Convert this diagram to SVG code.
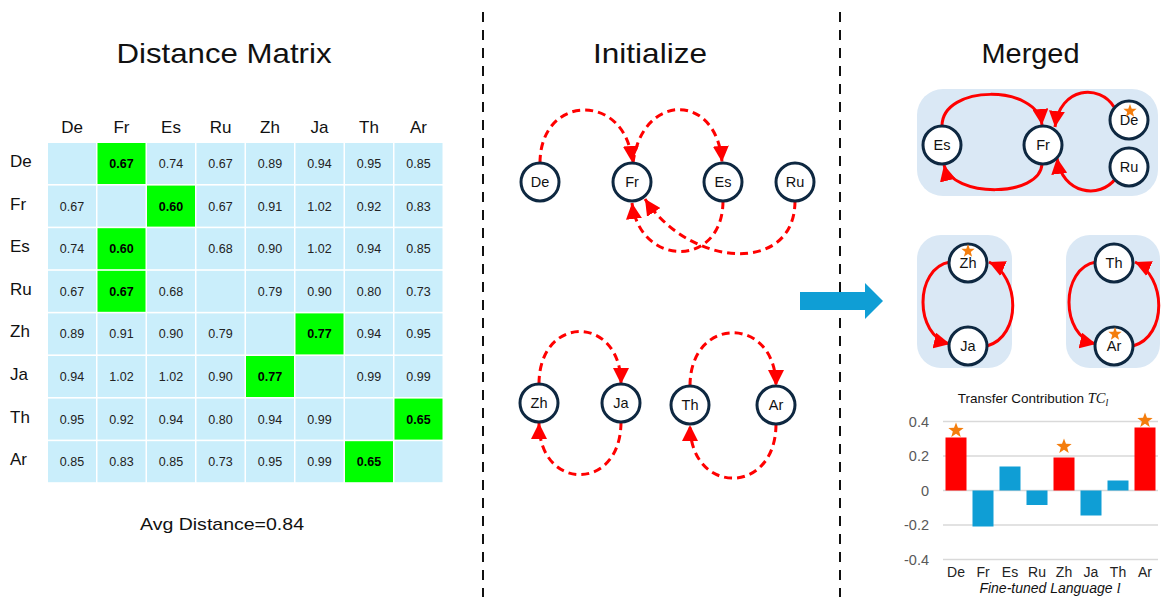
<svg xmlns="http://www.w3.org/2000/svg" width="1163" height="597" viewBox="0 0 1163 597">
<style>
text{font-family:"Liberation Sans",Arial,sans-serif;fill:#111;}
.title{font-size:28px;text-anchor:middle;}
.hdr{font-size:17px;text-anchor:middle;}
.rl{font-size:17px;}
.c{fill:#CAEEFB;}
.g{fill:#00FF00;}
.v{font-size:12.5px;text-anchor:middle;fill:#222;}
.b{font-size:12.5px;text-anchor:middle;font-weight:bold;fill:#000;}
.node circle{fill:#fff;stroke:#0E2841;stroke-width:3;}
.node text{font-size:14.5px;text-anchor:middle;fill:#111;}
.dash{fill:none;stroke:#FF0000;stroke-width:3;stroke-dasharray:8 5;}
.solid{fill:none;stroke:#FF0000;stroke-width:3;}
.sep{stroke:#111;stroke-width:2;stroke-dasharray:10 8;}
.grp{fill:#DAE8F5;}
.grid{stroke:#D9D9D9;stroke-width:1.5;}
.yl{font-size:14.5px;fill:#595959;text-anchor:end;}
.xl{font-size:14px;fill:#222;text-anchor:middle;}
.red{fill:#FF0000;}
.blu{fill:#0F9ED5;}
.star{fill:#F47D0C;}
</style>
<defs>
<marker id="ah" markerUnits="userSpaceOnUse" markerWidth="17" markerHeight="16" refX="16" refY="8" orient="auto">
<path d="M0,0 L16,8 L0,16 Z" fill="#FF0000"/>
</marker>
<path id="star" d="M0,-7 L1.70,-2.35 L6.66,-2.16 L2.76,0.90 L4.11,5.66 L0,2.9 L-4.11,5.66 L-2.76,0.90 L-6.66,-2.16 L-1.70,-2.35 Z"/>
</defs>
<rect width="1163" height="597" fill="#fff"/>

<!-- titles -->
<text class="title" x="224" y="63" textLength="215" lengthAdjust="spacingAndGlyphs">Distance Matrix</text>
<text class="title" x="650" y="63" textLength="114" lengthAdjust="spacingAndGlyphs">Initialize</text>
<text class="title" x="1030.5" y="63" textLength="98" lengthAdjust="spacingAndGlyphs">Merged</text>

<!-- separators -->
<line class="sep" x1="483" y1="12" x2="483" y2="597"/>
<line class="sep" x1="840" y1="12" x2="840" y2="597"/>

<!-- matrix -->
<g id="matrix">
<g id="col-headers">
<text class="hdr" x="72" y="133">De</text>
<text class="hdr" x="121.5" y="133">Fr</text>
<text class="hdr" x="171" y="133">Es</text>
<text class="hdr" x="220.5" y="133">Ru</text>
<text class="hdr" x="270" y="133">Zh</text>
<text class="hdr" x="319.5" y="133">Ja</text>
<text class="hdr" x="369" y="133">Th</text>
<text class="hdr" x="418.5" y="133">Ar</text>
</g>
<g id="row-labels">
<text class="rl" x="10" y="167">De</text>
<text class="rl" x="10" y="209.6">Fr</text>
<text class="rl" x="10" y="252.2">Es</text>
<text class="rl" x="10" y="294.8">Ru</text>
<text class="rl" x="10" y="337.4">Zh</text>
<text class="rl" x="10" y="380">Ja</text>
<text class="rl" x="10" y="422.6">Th</text>
<text class="rl" x="10" y="465.2">Ar</text>
</g>
<g id="cells">
<!-- row De -->
<rect class="c" x="48" y="143" width="48" height="41"/>
<rect class="g" x="97.5" y="143" width="48" height="41"/><text class="b" x="121.5" y="168">0.67</text>
<rect class="c" x="147" y="143" width="48" height="41"/><text class="v" x="171" y="168">0.74</text>
<rect class="c" x="196.5" y="143" width="48" height="41"/><text class="v" x="220.5" y="168">0.67</text>
<rect class="c" x="246" y="143" width="48" height="41"/><text class="v" x="270" y="168">0.89</text>
<rect class="c" x="295.5" y="143" width="48" height="41"/><text class="v" x="319.5" y="168">0.94</text>
<rect class="c" x="345" y="143" width="48" height="41"/><text class="v" x="369" y="168">0.95</text>
<rect class="c" x="394.5" y="143" width="48" height="41"/><text class="v" x="418.5" y="168">0.85</text>
<!-- row Fr -->
<rect class="c" x="48" y="185.6" width="48" height="41"/><text class="v" x="72" y="210.6">0.67</text>
<rect class="c" x="97.5" y="185.6" width="48" height="41"/>
<rect class="g" x="147" y="185.6" width="48" height="41"/><text class="b" x="171" y="210.6">0.60</text>
<rect class="c" x="196.5" y="185.6" width="48" height="41"/><text class="v" x="220.5" y="210.6">0.67</text>
<rect class="c" x="246" y="185.6" width="48" height="41"/><text class="v" x="270" y="210.6">0.91</text>
<rect class="c" x="295.5" y="185.6" width="48" height="41"/><text class="v" x="319.5" y="210.6">1.02</text>
<rect class="c" x="345" y="185.6" width="48" height="41"/><text class="v" x="369" y="210.6">0.92</text>
<rect class="c" x="394.5" y="185.6" width="48" height="41"/><text class="v" x="418.5" y="210.6">0.83</text>
<!-- row Es -->
<rect class="c" x="48" y="228.2" width="48" height="41"/><text class="v" x="72" y="253.2">0.74</text>
<rect class="g" x="97.5" y="228.2" width="48" height="41"/><text class="b" x="121.5" y="253.2">0.60</text>
<rect class="c" x="147" y="228.2" width="48" height="41"/>
<rect class="c" x="196.5" y="228.2" width="48" height="41"/><text class="v" x="220.5" y="253.2">0.68</text>
<rect class="c" x="246" y="228.2" width="48" height="41"/><text class="v" x="270" y="253.2">0.90</text>
<rect class="c" x="295.5" y="228.2" width="48" height="41"/><text class="v" x="319.5" y="253.2">1.02</text>
<rect class="c" x="345" y="228.2" width="48" height="41"/><text class="v" x="369" y="253.2">0.94</text>
<rect class="c" x="394.5" y="228.2" width="48" height="41"/><text class="v" x="418.5" y="253.2">0.85</text>
<!-- row Ru -->
<rect class="c" x="48" y="270.8" width="48" height="41"/><text class="v" x="72" y="295.8">0.67</text>
<rect class="g" x="97.5" y="270.8" width="48" height="41"/><text class="b" x="121.5" y="295.8">0.67</text>
<rect class="c" x="147" y="270.8" width="48" height="41"/><text class="v" x="171" y="295.8">0.68</text>
<rect class="c" x="196.5" y="270.8" width="48" height="41"/>
<rect class="c" x="246" y="270.8" width="48" height="41"/><text class="v" x="270" y="295.8">0.79</text>
<rect class="c" x="295.5" y="270.8" width="48" height="41"/><text class="v" x="319.5" y="295.8">0.90</text>
<rect class="c" x="345" y="270.8" width="48" height="41"/><text class="v" x="369" y="295.8">0.80</text>
<rect class="c" x="394.5" y="270.8" width="48" height="41"/><text class="v" x="418.5" y="295.8">0.73</text>
<!-- row Zh -->
<rect class="c" x="48" y="313.4" width="48" height="41"/><text class="v" x="72" y="338.4">0.89</text>
<rect class="c" x="97.5" y="313.4" width="48" height="41"/><text class="v" x="121.5" y="338.4">0.91</text>
<rect class="c" x="147" y="313.4" width="48" height="41"/><text class="v" x="171" y="338.4">0.90</text>
<rect class="c" x="196.5" y="313.4" width="48" height="41"/><text class="v" x="220.5" y="338.4">0.79</text>
<rect class="c" x="246" y="313.4" width="48" height="41"/>
<rect class="g" x="295.5" y="313.4" width="48" height="41"/><text class="b" x="319.5" y="338.4">0.77</text>
<rect class="c" x="345" y="313.4" width="48" height="41"/><text class="v" x="369" y="338.4">0.94</text>
<rect class="c" x="394.5" y="313.4" width="48" height="41"/><text class="v" x="418.5" y="338.4">0.95</text>
<!-- row Ja -->
<rect class="c" x="48" y="356" width="48" height="41"/><text class="v" x="72" y="381">0.94</text>
<rect class="c" x="97.5" y="356" width="48" height="41"/><text class="v" x="121.5" y="381">1.02</text>
<rect class="c" x="147" y="356" width="48" height="41"/><text class="v" x="171" y="381">1.02</text>
<rect class="c" x="196.5" y="356" width="48" height="41"/><text class="v" x="220.5" y="381">0.90</text>
<rect class="g" x="246" y="356" width="48" height="41"/><text class="b" x="270" y="381">0.77</text>
<rect class="c" x="295.5" y="356" width="48" height="41"/>
<rect class="c" x="345" y="356" width="48" height="41"/><text class="v" x="369" y="381">0.99</text>
<rect class="c" x="394.5" y="356" width="48" height="41"/><text class="v" x="418.5" y="381">0.99</text>
<!-- row Th -->
<rect class="c" x="48" y="398.6" width="48" height="41"/><text class="v" x="72" y="423.6">0.95</text>
<rect class="c" x="97.5" y="398.6" width="48" height="41"/><text class="v" x="121.5" y="423.6">0.92</text>
<rect class="c" x="147" y="398.6" width="48" height="41"/><text class="v" x="171" y="423.6">0.94</text>
<rect class="c" x="196.5" y="398.6" width="48" height="41"/><text class="v" x="220.5" y="423.6">0.80</text>
<rect class="c" x="246" y="398.6" width="48" height="41"/><text class="v" x="270" y="423.6">0.94</text>
<rect class="c" x="295.5" y="398.6" width="48" height="41"/><text class="v" x="319.5" y="423.6">0.99</text>
<rect class="c" x="345" y="398.6" width="48" height="41"/>
<rect class="g" x="394.5" y="398.6" width="48" height="41"/><text class="b" x="418.5" y="423.6">0.65</text>
<!-- row Ar -->
<rect class="c" x="48" y="441.2" width="48" height="41"/><text class="v" x="72" y="466.2">0.85</text>
<rect class="c" x="97.5" y="441.2" width="48" height="41"/><text class="v" x="121.5" y="466.2">0.83</text>
<rect class="c" x="147" y="441.2" width="48" height="41"/><text class="v" x="171" y="466.2">0.85</text>
<rect class="c" x="196.5" y="441.2" width="48" height="41"/><text class="v" x="220.5" y="466.2">0.73</text>
<rect class="c" x="246" y="441.2" width="48" height="41"/><text class="v" x="270" y="466.2">0.95</text>
<rect class="c" x="295.5" y="441.2" width="48" height="41"/><text class="v" x="319.5" y="466.2">0.99</text>
<rect class="g" x="345" y="441.2" width="48" height="41"/><text class="b" x="369" y="466.2">0.65</text>
<rect class="c" x="394.5" y="441.2" width="48" height="41"/>
</g>
<text x="222" y="530" font-size="17" text-anchor="middle" textLength="164" lengthAdjust="spacingAndGlyphs">Avg Distance=0.84</text>
</g>

<!-- merged group backgrounds -->
<rect id="grp-top" class="grp" x="917" y="89" width="241" height="107" rx="26"/>
<rect id="grp-zhja" class="grp" x="917" y="235" width="95" height="133" rx="24"/>
<rect id="grp-thar" class="grp" x="1066" y="235" width="94" height="133" rx="24"/>

<!-- connectors -->
<g id="connectors">
<path class="dash" marker-end="url(#ah)" d="M540,163 C540,93 627,92 632,162"/>
<path class="dash" marker-end="url(#ah)" d="M633,163 C642,92 717,92 722,162"/>
<path class="dash" marker-end="url(#ah)" d="M723,201 C723,268 640,268 632,203"/>
<path class="dash" marker-end="url(#ah)" d="M795,201 C795,275 690,268 645,199"/>
<path class="dash" marker-end="url(#ah)" d="M539,384 C539,314 621,314 621,384"/>
<path class="dash" marker-end="url(#ah)" d="M621,422 C621,492 539,492 539,423"/>
<path class="dash" marker-end="url(#ah)" d="M690,386 C690,315 776,315 776,386"/>
<path class="dash" marker-end="url(#ah)" d="M776,424 C776,496 690,496 690,425"/>
<path class="solid" marker-end="url(#ah)" d="M942,126 C942,84 1038,84 1042,125"/>
<path class="solid" marker-end="url(#ah)" d="M1042,164 C1040,198 952,198 944,165"/>
<path class="solid" marker-end="url(#ah)" d="M1114,107 C1100,84 1060,86 1055,127"/>
<path class="solid" marker-end="url(#ah)" d="M1116,178 C1100,200 1062,194 1057,158"/>
<path class="solid" marker-end="url(#ah)" d="M950,262 C914,268 914,336 950,344"/>
<path class="solid" marker-end="url(#ah)" d="M987,346 C1022,336 1020,276 989,262"/>
<path class="solid" marker-end="url(#ah)" d="M1096,262 C1060,268 1060,336 1096,344"/>
<path class="solid" marker-end="url(#ah)" d="M1133,346 C1168,336 1166,276 1135,262"/>
</g>

<!-- initialize nodes -->
<g id="init-De" class="node"><circle cx="540" cy="182" r="19"/><text x="540" y="187">De</text></g>
<g id="init-Fr" class="node"><circle cx="632" cy="182" r="19"/><text x="632" y="187">Fr</text></g>
<g id="init-Es" class="node"><circle cx="723" cy="182" r="19"/><text x="723" y="187">Es</text></g>
<g id="init-Ru" class="node"><circle cx="795" cy="182" r="19"/><text x="795" y="187">Ru</text></g>
<g id="init-Zh" class="node"><circle cx="539" cy="403" r="19"/><text x="539" y="408">Zh</text></g>
<g id="init-Ja" class="node"><circle cx="621" cy="403" r="19"/><text x="621" y="408">Ja</text></g>
<g id="init-Th" class="node"><circle cx="690" cy="405" r="19"/><text x="690" y="410">Th</text></g>
<g id="init-Ar" class="node"><circle cx="776" cy="405" r="19"/><text x="776" y="410">Ar</text></g>

<!-- merged nodes -->
<g id="m-Es" class="node"><circle cx="942" cy="145" r="19"/><text x="942" y="150">Es</text></g>
<g id="m-Fr" class="node"><circle cx="1043" cy="145" r="19"/><text x="1043" y="150">Fr</text></g>
<g id="m-De" class="node"><circle cx="1129" cy="120" r="19"/><text x="1129" y="125">De</text><use href="#star" class="star" x="1130" y="111"/></g>
<g id="m-Ru" class="node"><circle cx="1129" cy="167" r="19"/><text x="1129" y="172">Ru</text></g>
<g id="m-Zh" class="node"><circle cx="968" cy="263" r="19"/><text x="968" y="268">Zh</text><use href="#star" class="star" x="968" y="251"/></g>
<g id="m-Ja" class="node"><circle cx="968" cy="346" r="19"/><text x="968" y="351">Ja</text></g>
<g id="m-Th" class="node"><circle cx="1114" cy="263" r="19"/><text x="1114" y="268">Th</text></g>
<g id="m-Ar" class="node"><circle cx="1114" cy="346" r="19"/><text x="1114" y="351">Ar</text><use href="#star" class="star" x="1115" y="334"/></g>

<!-- blue arrow -->
<path id="big-arrow" d="M800,292 L865,292 L865,283 L883,301 L865,319 L865,310 L800,310 Z" fill="#0F9ED5"/>

<!-- chart -->
<g id="chart">
<text x="1033" y="403" font-size="13.5" text-anchor="middle">Transfer Contribution <tspan font-family="Liberation Serif" font-style="italic" font-size="14.5">TC</tspan><tspan font-family="Liberation Serif" font-style="italic" font-size="10" dy="3">l</tspan></text>
<line class="grid" x1="943" y1="421.5" x2="1158" y2="421.5"/>
<line class="grid" x1="943" y1="456" x2="1158" y2="456"/>
<line class="grid" x1="943" y1="490.5" x2="1158" y2="490.5"/>
<line class="grid" x1="943" y1="525" x2="1158" y2="525"/>
<line class="grid" x1="943" y1="559.5" x2="1158" y2="559.5"/>
<text class="yl" x="929" y="426.5">0.4</text>
<text class="yl" x="929" y="461">0.2</text>
<text class="yl" x="929" y="495.5">0</text>
<text class="yl" x="929" y="530">-0.2</text>
<text class="yl" x="929" y="564.5">-0.4</text>
<rect class="red" x="945.5" y="437.5" width="21" height="53"/>
<rect class="blu" x="972.5" y="490.5" width="21" height="36"/>
<rect class="blu" x="999.5" y="466.5" width="21" height="24"/>
<rect class="blu" x="1026.5" y="490.5" width="21" height="14.5"/>
<rect class="red" x="1053.5" y="457.5" width="21" height="33"/>
<rect class="blu" x="1080.5" y="490.5" width="21" height="25"/>
<rect class="blu" x="1107.5" y="480.5" width="21" height="10"/>
<rect class="red" x="1134.5" y="427.5" width="21" height="63"/>
<use href="#star" class="star" transform="translate(956,430.5) scale(1.15)"/>
<use href="#star" class="star" transform="translate(1064,446.5) scale(1.15)"/>
<use href="#star" class="star" transform="translate(1145,420.5) scale(1.15)"/>
<text class="xl" x="956" y="577">De</text>
<text class="xl" x="983" y="577">Fr</text>
<text class="xl" x="1010" y="577">Es</text>
<text class="xl" x="1037" y="577">Ru</text>
<text class="xl" x="1064" y="577">Zh</text>
<text class="xl" x="1091" y="577">Ja</text>
<text class="xl" x="1118" y="577">Th</text>
<text class="xl" x="1145" y="577">Ar</text>
<text x="1050" y="593" font-size="14" text-anchor="middle" font-style="italic">Fine-tuned Language <tspan font-family="Liberation Serif" font-size="15">l</tspan></text>
</g>
</svg>
